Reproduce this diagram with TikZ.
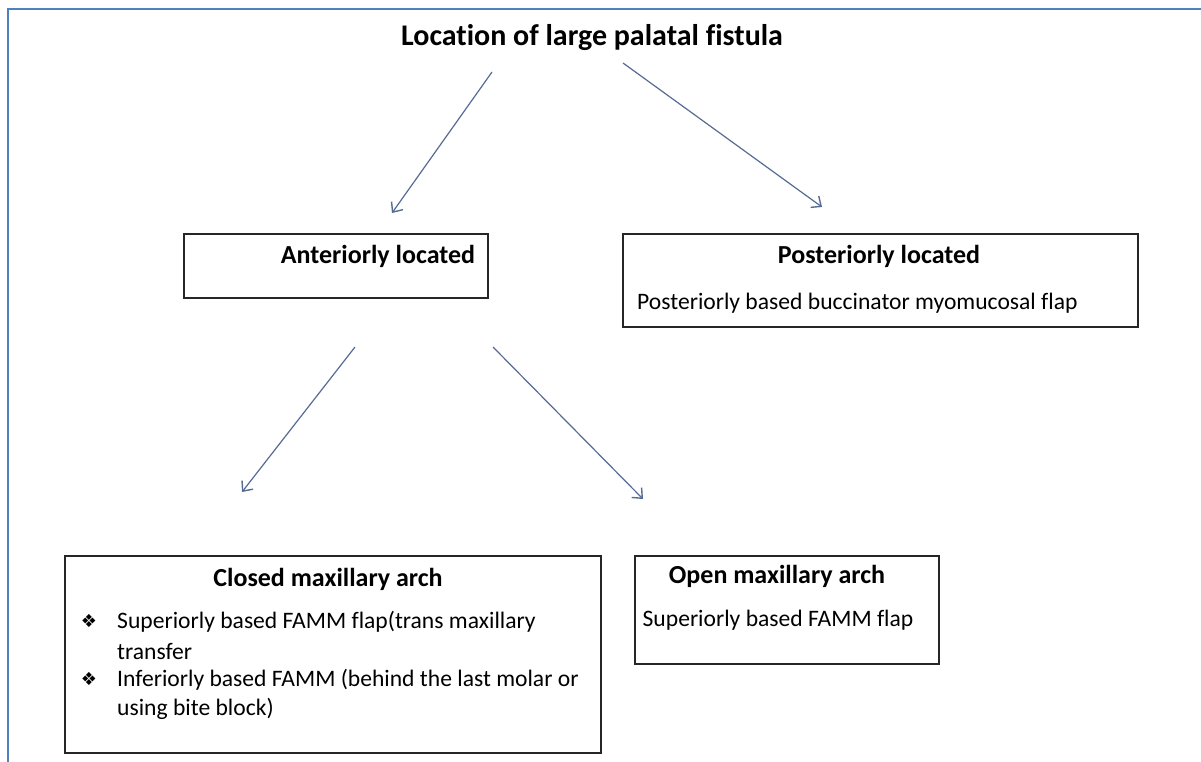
\documentclass[tikz,border=0pt]{standalone}
\usepackage{fontspec}
\setmainfont[Ligatures=NoCommon]{Carlito}
\newfontfamily\symfont{DejaVu Sans}
\usetikzlibrary{arrows.meta}
\definecolor{frameblue}{HTML}{4F81BD}
\definecolor{arrowc}{HTML}{566C92}
\begin{document}
\begin{tikzpicture}[x=1pt,y=-1pt,
  box/.style={draw=black!85, line width=1.5pt, inner sep=0pt, anchor=north west},
  titletext/.style={font=\fontsize{30}{34}\selectfont\bfseries, inner sep=0pt},
  headtext/.style={font=\fontsize{26}{30}\selectfont\bfseries, inner sep=0pt},
  bodytext/.style={font=\fontsize{23.6}{27}\selectfont, inner sep=0pt},
  bul/.style={font=\symfont\fontsize{18}{20}\selectfont, inner sep=0pt},
  conn/.style={draw=arrowc, line width=1.2pt, -{Straight Barb[length=8pt,width=14pt,line width=1.4pt]}}]
\useasboundingbox (0,0) rectangle (1201,761);
\fill[white] (0,0) rectangle (1201,761);
\draw[frameblue, line width=2.2pt] (8,775) -- (8,9) -- (1215,9);

% title
\node[titletext] (title) at (592,38) {Location of large palatal fistula};

% boxes
\node[box, minimum width=304, minimum height=64] (ant) at (183,233) {};
\node[headtext] (antT) at (378,256) {Anteriorly located};

\node[box, minimum width=515, minimum height=93] (post) at (622,233) {};
\node[headtext] (postT) at (879,256) {Posteriorly located};
\node[bodytext, anchor=west] (postB) at (637,303) {Posteriorly based buccinator myomucosal flap};

\node[box, minimum width=536, minimum height=197] (closed) at (64,555) {};
\node[headtext] (closedT) at (328,579) {Closed maxillary arch};
\node[bul] (b1) at (89,621) {❖};
\node[bodytext, anchor=west] (c1) at (117,622) {Superiorly based FAMM flap(trans maxillary};
\node[bodytext, anchor=west] (c2) at (117,651) {transfer};
\node[bul] (b2) at (89,679) {❖};
\node[bodytext, anchor=west] (c3) at (117,680) {Inferiorly based FAMM (behind the last molar or};
\node[bodytext, anchor=west] (c4) at (117,709) {using bite block)};

\node[box, minimum width=304, minimum height=108] (open) at (634,555) {};
\node[headtext] (openT) at (777,576) {Open maxillary arch};
\node[bodytext] (openB) at (778,620) {Superiorly based FAMM flap};

% connector end points
\coordinate (s1) at (492,72);
\coordinate (e1) at (392,213);
\coordinate (s2) at (623,63);
\coordinate (e2) at (822,207);
\coordinate (s3) at (355,347);
\coordinate (e3) at (242,492);
\coordinate (s4) at (493,347);
\coordinate (e4) at (643,499);

\draw[conn] (s1) -- (e1);
\draw[conn] (s2) -- (e2);
\draw[conn] (s3) -- (e3);
\draw[conn] (s4) -- (e4);
\end{tikzpicture}
\end{document}
